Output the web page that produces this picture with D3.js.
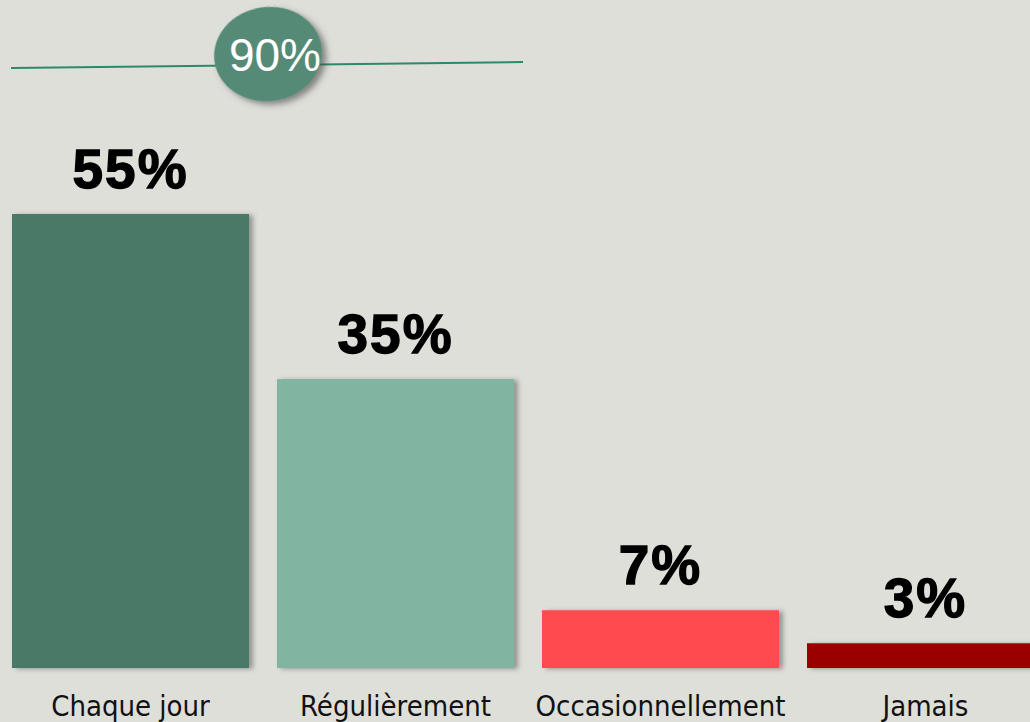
<!DOCTYPE html>
<html><head><meta charset="utf-8">
<script src="https://cdn.jsdelivr.net/npm/d3@7"></script>
<style>
html,body{margin:0;padding:0;background:#dfdfda;overflow:hidden;}
svg{display:block;}
</style></head>
<body>
<script>
const categories = ["Chaque jour", "Régulièrement", "Occasionnellement", "Jamais"];
const values = [55, 35, 7, 3];
const colors = ["#4a7a68", "#81b4a1", "#ff4c4f", "#990000"];
const totalLabel = "90%";

const W = 1030, H = 722;
const svg = d3.select("body").append("svg").attr("width", W).attr("height", H);
svg.append("rect").attr("width", W).attr("height", H).attr("fill", "#dfdfda");

const defs = svg.append("defs");
const f = defs.append("filter").attr("id", "sh").attr("x", "-20%").attr("y", "-20%").attr("width", "150%").attr("height", "150%");
f.append("feDropShadow").attr("dx", 4).attr("dy", 1).attr("stdDeviation", 2.5).attr("flood-color", "#555").attr("flood-opacity", 0.55);
const f2 = defs.append("filter").attr("id", "sh2").attr("x", "-30%").attr("y", "-30%").attr("width", "170%").attr("height", "170%");
f2.append("feDropShadow").attr("dx", 4).attr("dy", 4).attr("stdDeviation", 3).attr("flood-color", "#444").attr("flood-opacity", 0.6);

const x = d3.scaleBand().domain(categories).range([12, 1044]).paddingInner(28/265).paddingOuter(0);
const y = d3.scaleLinear().domain([0, 55]).range([668, 214]);

svg.selectAll("rect.bar").data(values).join("rect")
  .attr("class", "bar")
  .attr("x", (d, i) => x(categories[i]))
  .attr("y", d => y(d))
  .attr("width", x.bandwidth())
  .attr("height", d => y(0) - y(d))
  .attr("fill", (d, i) => colors[i])
  .attr("filter", "url(#sh)");

svg.selectAll("text.val").data(values).join("text")
  .attr("class", "val")
  .attr("x", (d, i) => x(categories[i]) + x.bandwidth() / 2)
  .attr("y", d => y(d) - 26)
  .attr("text-anchor", "middle")
  .attr("font-family", "Liberation Sans, Arial, sans-serif")
  .attr("font-weight", "bold")
  .attr("font-size", 55)
  .attr("letter-spacing", 2)
  .attr("fill", "#000")
  .attr("stroke", "#000")
  .attr("stroke-width", 1.3)
  .text(d => d + "%");

const xAxis = d3.axisBottom(x).tickSize(0).tickPadding(0);
const ax = svg.append("g").attr("transform", `translate(0,${y(0)})`).call(xAxis);
ax.select(".domain").remove();
ax.selectAll("text")
  .attr("y", 48)
  .attr("dy", 0)
  .attr("font-family", "DejaVu Sans Condensed, DejaVu Sans, sans-serif")
  .attr("font-size", 29)
  .attr("fill", "#111");

// Total line spanning first two bars
const lx0 = x(categories[0]) - 1;
const lx1 = x(categories[1]) + x.bandwidth() + 9;
svg.append("line")
  .attr("x1", lx0).attr("y1", 68)
  .attr("x2", lx1).attr("y2", 62)
  .attr("stroke", "#2b8a68").attr("stroke-width", 2);

const cx = 268, cy = 54;
svg.append("ellipse")
  .attr("cx", cx).attr("cy", cy).attr("rx", 54).attr("ry", 47)
  .attr("transform", `rotate(-8 ${cx} ${cy})`)
  .attr("fill", "#558b76")
  .attr("filter", "url(#sh2)");
svg.append("text")
  .attr("x", cx + 7).attr("y", 71)
  .attr("text-anchor", "middle")
  .attr("font-family", "Liberation Sans, Arial, sans-serif")
  .attr("font-size", 46)
  .attr("fill", "#fff")
  .text(totalLabel);
</script>
</body></html>
